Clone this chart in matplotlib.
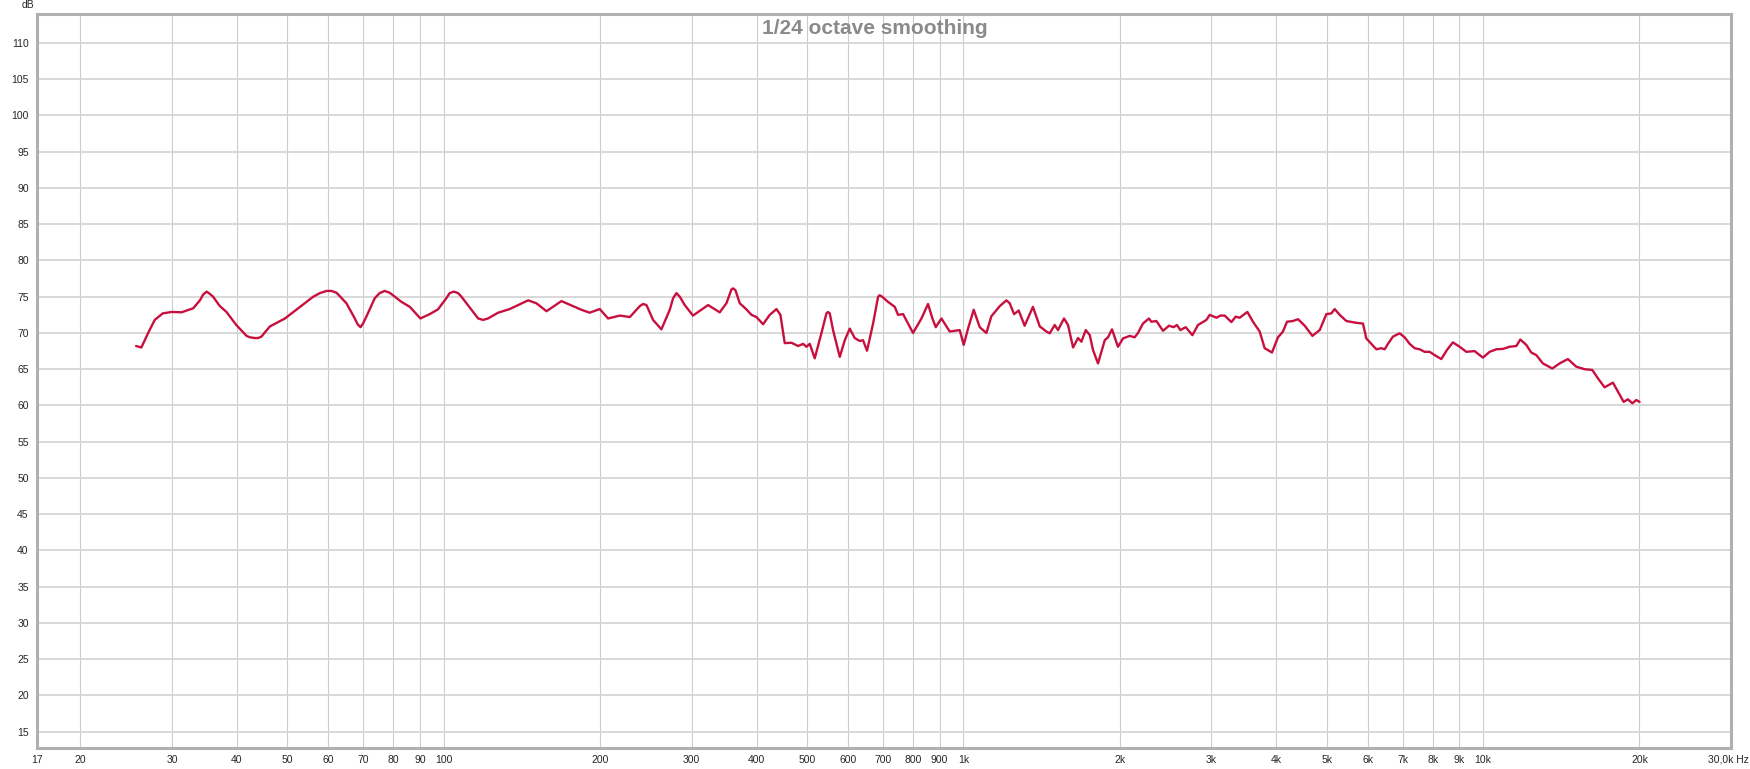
import matplotlib
matplotlib.use("Agg")
from matplotlib import pyplot as plt

# frequency response (Hz, dB)
freq_hz = [
    25.6, 26.2, 27.0, 27.8, 28.8, 29.95, 31.3, 32.96, 33.96, 34.45,
    34.98, 35.48, 36.0, 37.1, 38.2, 39.9, 41.75, 42.4, 43.3, 43.95,
    44.6, 46.3, 49.5, 52.9, 56.1, 57.8, 59.5, 60.8, 62.2, 65.0,
    67.45, 68.3, 69.2, 69.95, 71.0, 73.7, 75.3, 77.0, 78.7, 79.9,
    82.9, 86.1, 90.2, 94.0, 97.5, 101.2, 102.7, 104.6, 106.6, 108.2,
    113.9, 116.5, 119.1, 121.7, 127.3, 134.0, 145.4, 150.8, 157.7, 168.5,
    184.1, 191.0, 199.7, 207.2, 218.3, 228.2, 238.4, 241.9, 245.6, 252.9,
    262.4, 272.3, 276.4, 280.5, 284.7, 291.0, 301.8, 322.7, 339.8, 350.0,
    357.9, 360.5, 364.3, 371.3, 382.5, 391.1, 399.8, 411.7, 424.1, 436.9,
    444.6, 453.2, 467.0, 480.8, 491.6, 498.9, 506.4, 517.6, 533.3, 545.2,
    549.1, 553.3, 561.4, 578.4, 591.3, 604.5, 618.0, 631.8, 641.1, 652.6,
    670.3, 685.4, 690.5, 697.6, 716.1, 737.9, 748.8, 765.6, 800.2, 830.5,
    855.1, 871.9, 884.8, 907.5, 941.3, 984.0, 1001.6, 1020.9, 1047, 1075.2,
    1107.5, 1132, 1174.9, 1210, 1228, 1252, 1278, 1312, 1361, 1403,
    1445, 1466, 1499, 1521, 1562, 1590, 1626, 1662, 1687, 1720,
    1751, 1776, 1816, 1871, 1898, 1932, 1984, 2029, 2090, 2136,
    2168, 2216, 2276, 2300, 2352, 2422, 2487, 2539, 2576, 2616,
    2678, 2759, 2828, 2935, 2979, 3069, 3124, 3183, 3279, 3342,
    3401, 3520, 3608, 3717, 3800, 3925, 4031, 4121, 4195, 4308,
    4405, 4538, 4695, 4850, 4995, 5106, 5182, 5298, 5457, 5705,
    5874, 5962, 6095, 6232, 6373, 6467, 6562, 6709, 6911, 7066,
    7224, 7386, 7551, 7720, 7893, 8069, 8312, 8521, 8750, 9014,
    9284, 9631, 9995, 10297, 10605, 10920, 11248, 11588, 11796, 12113,
    12384, 12661, 13036, 13591, 14039, 14565, 15114, 15682, 16228, 16634,
    17135, 17779, 18177, 18642, 19002, 19375, 19722, 20010,
]
level_db = [
    68.2, 68.0, 70.0, 71.8, 72.7, 72.9, 72.85, 73.4, 74.5, 75.3,
    75.7, 75.4, 75.0, 73.7, 72.9, 71.1, 69.6, 69.4, 69.3, 69.3,
    69.5, 70.9, 72.0, 73.6, 75.0, 75.5, 75.8, 75.8, 75.55, 74.1,
    72.0, 71.2, 70.8, 71.3, 72.25, 74.8, 75.5, 75.8, 75.55, 75.2,
    74.3, 73.6, 72.0, 72.6, 73.25, 74.8, 75.5, 75.7, 75.5, 75.0,
    72.9, 72.0, 71.8, 72.0, 72.8, 73.3, 74.5, 74.1, 73.0, 74.4,
    73.2, 72.8, 73.3, 72.0, 72.4, 72.2, 73.7, 74.0, 73.85, 71.8,
    70.5, 73.2, 74.8, 75.5, 75.0, 73.85, 72.4, 73.85, 72.85, 74.1,
    76.0, 76.15, 75.9, 74.1, 73.25, 72.5, 72.2, 71.2, 72.5, 73.3,
    72.5, 68.6, 68.65, 68.2, 68.5, 68.1, 68.5, 66.5, 70.0, 72.7,
    72.9, 72.7, 70.4, 66.7, 69.0, 70.6, 69.3, 68.9, 69.0, 67.55,
    71.3, 75.0, 75.2, 75.0, 74.3, 73.6, 72.5, 72.6, 70.0, 72.0,
    74.0, 72.0, 70.8, 72.0, 70.2, 70.4, 68.35, 70.6, 73.2, 70.8,
    70.0, 72.3, 73.7, 74.5, 74.1, 72.6, 73.1, 71.0, 73.6, 70.9,
    70.2, 69.95, 71.1, 70.4, 72.0, 71.1, 68.0, 69.3, 68.8, 70.4,
    69.7, 67.65, 65.8, 69.0, 69.4, 70.5, 68.1, 69.25, 69.6, 69.4,
    70.0, 71.3, 72.0, 71.55, 71.65, 70.3, 71.0, 70.8, 71.1, 70.4,
    70.8, 69.7, 71.1, 71.8, 72.5, 72.1, 72.4, 72.4, 71.5, 72.25,
    72.1, 72.9, 71.55, 70.2, 67.9, 67.3, 69.4, 70.2, 71.55, 71.65,
    71.9, 71.0, 69.6, 70.4, 72.6, 72.7, 73.3, 72.5, 71.65, 71.4,
    71.3, 69.25, 68.5, 67.75, 67.9, 67.75, 68.5, 69.5, 69.95, 69.4,
    68.5, 67.9, 67.75, 67.4, 67.4, 66.95, 66.4, 67.65, 68.7, 68.1,
    67.4, 67.5, 66.6, 67.4, 67.75, 67.8, 68.1, 68.2, 69.1, 68.35,
    67.3, 66.95, 65.8, 65.1, 65.8, 66.4, 65.35, 65.0, 64.9, 63.75,
    62.5, 63.15, 61.9, 60.5, 60.85, 60.3, 60.75, 60.5,
]

grid_freqs = [20, 30, 40, 50, 60, 70, 80, 90, 100, 200, 300, 400, 500, 600, 700,
              800, 900, 1000, 2000, 3000, 4000, 5000, 6000, 7000, 8000, 9000,
              10000, 20000]
grid_labels = ["20", "30", "40", "50", "60", "70", "80", "90", "100", "200", "300",
               "400", "500", "600", "700", "800", "900", "1k", "2k", "3k", "4k",
               "5k", "6k", "7k", "8k", "9k", "10k", "20k"]
db_ticks = list(range(15, 111, 5))

plt.rcParams['font.family'] = ['Liberation Sans', 'DejaVu Sans']

fig = plt.figure(figsize=(17.5, 7.69), dpi=100)
ax = fig.add_axes([37 / 1750, 1 - 748 / 769, (1731 - 37) / 1750, (748 - 14) / 769])

ax.set_xscale('log')
ax.set_xlim(16.5, 30000)
ax.set_ylim(12.75, 114)

ax.set_xticks([16.5] + grid_freqs)
ax.set_xticklabels(["17"] + grid_labels)
ax.xaxis.set_minor_locator(matplotlib.ticker.NullLocator())
ax.set_yticks(db_ticks)
ax.set_yticklabels([str(v) for v in db_ticks])

ax.tick_params(length=0, labelsize=7.5, labelcolor='#262626')
ax.tick_params(axis='x', pad=5)
ax.tick_params(axis='y', pad=6)

for f in grid_freqs:
    ax.axvline(f, color='#cccccc', lw=0.8, zorder=1)
for v in db_ticks:
    ax.axhline(v, color='#d6d6d6', lw=1.3, zorder=1)

for s in ax.spines.values():
    s.set_color('#b0b0b0')
    s.set_linewidth(2.2)

ax.plot(freq_hz, level_db, color='#c8103f', lw=1.7, zorder=3,
        solid_joinstyle='round', solid_capstyle='round')

fig.text(0.5, 1 - 29 / 769, "1/24 octave smoothing", ha='center', va='center',
         fontsize=15, fontweight='bold', color='#8a8a8a')
fig.text(28 / 1750, 1 - 5 / 769, "dB", ha='center', va='center', fontsize=7.5, color='#262626')
fig.text(1749 / 1750, 1 - 760 / 769, "30,0k Hz", ha='right', va='center', fontsize=7.5,
         color='#262626')

fig.savefig("out.png", dpi=100, facecolor='white')
